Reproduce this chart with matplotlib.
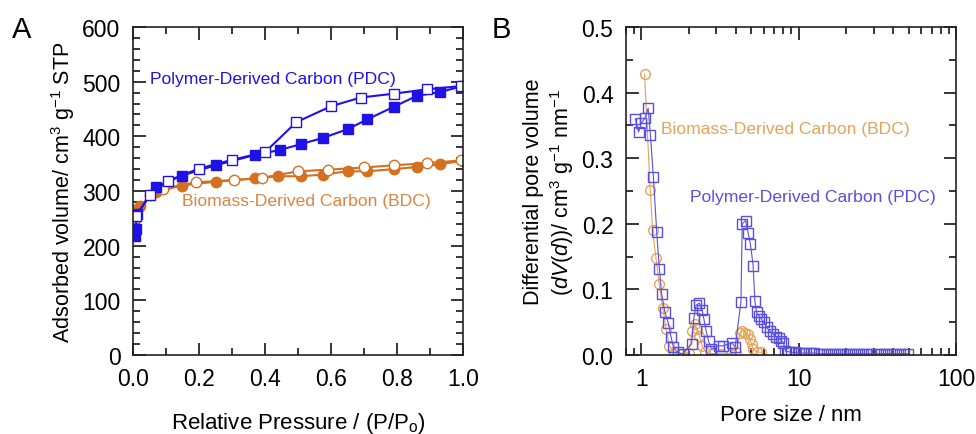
import matplotlib
matplotlib.use("Agg")
import matplotlib.pyplot as plt
from matplotlib.ticker import MultipleLocator, LogLocator, NullFormatter, FixedLocator

plt.rcParams['font.family'] = ['Liberation Sans', 'DejaVu Sans']
plt.rcParams['mathtext.fontset'] = 'custom'
plt.rcParams['mathtext.rm'] = 'Liberation Sans'
plt.rcParams['mathtext.it'] = 'Liberation Sans:italic'

# ---------------- Panel A: isotherms ----------------
pdc_ads_p = [0.005, 0.008, 0.012, 0.07, 0.147, 0.25, 0.37, 0.445, 0.51, 0.575, 0.65, 0.71, 0.79, 0.86, 0.93, 1.0]
pdc_ads_v = [218, 231, 258, 307, 328, 347, 366, 375, 386, 397, 413, 431, 454, 474, 481, 492]
pdc_des_p = [0.995, 0.89, 0.79, 0.69, 0.60, 0.495, 0.40, 0.30, 0.20, 0.107, 0.05, 0.01]
pdc_des_v = [492, 486, 478, 471, 455, 426, 371, 357, 341, 319, 292, 255]

bdc_ads_p = [0.005, 0.02, 0.07, 0.147, 0.25, 0.37, 0.44, 0.51, 0.575, 0.65, 0.71, 0.79, 0.86, 0.93, 1.0]
bdc_ads_v = [265, 273, 298, 310, 317, 323, 327, 327, 330, 336, 336, 340, 344, 349, 355]
bdc_des_p = [0.995, 0.89, 0.79, 0.70, 0.59, 0.50, 0.39, 0.305, 0.19, 0.09, 0.05, 0.008]
bdc_des_v = [356, 351, 347, 343, 339, 336, 324, 320, 316, 304, 292, 250]

# ---------------- Panel B: pore size distributions ----------------
pdc_d = [0.917, 0.962, 1.0, 1.054, 1.106, 1.144, 1.195, 1.254, 1.304, 1.348, 1.414, 1.484, 1.544,
         1.60, 1.70, 1.83, 2.09, 2.16, 2.23, 2.34, 2.44, 2.50, 2.58, 2.68, 2.79, 3.10, 3.33, 3.76,
         3.95, 4.30, 4.38, 4.61, 4.78, 4.94, 5.14, 5.27, 5.40, 5.58, 5.80, 6.03, 6.26, 6.54, 6.87,
         7.21, 7.50, 7.75, 8.0, 8.25, 8.6, 9.0, 9.5, 10.0, 10.6, 11.2, 11.9, 12.6, 13.4, 14.2,
         15.1, 16.0, 17.0, 18.0, 19.1, 20.3, 21.5, 22.8, 24.2, 25.7, 27.3, 29.0, 30.8, 32.7,
         34.7, 36.8, 39.1, 41.5, 44.0, 46.7, 49.5]
pdc_dv = [0.360, 0.340, 0.353, 0.361, 0.376, 0.335, 0.271, 0.187, 0.131, 0.093, 0.065, 0.049, 0.028,
          0.012, 0.004, 0.002, 0.017, 0.057, 0.076, 0.079, 0.068, 0.055, 0.037, 0.021, 0.009, 0.014,
          0.014, 0.019, 0.012, 0.081, 0.200, 0.205, 0.186, 0.169, 0.136, 0.083, 0.065, 0.060, 0.055,
          0.050, 0.042, 0.037, 0.032, 0.028, 0.026, 0.022, 0.019, 0.006, 0.005, 0.004, 0.004, 0.003,
          0.003, 0.003, 0.003, 0.003, 0.002, 0.002, 0.002, 0.002, 0.002, 0.002, 0.002, 0.002,
          0.002, 0.002, 0.002, 0.002, 0.002, 0.002, 0.002, 0.002, 0.002, 0.002, 0.002, 0.002,
          0.002, 0.002, 0.002]

bdc_d = [1.05, 1.14, 1.18, 1.24, 1.30, 1.37, 1.44, 1.51, 1.62, 1.80, 2.00, 2.11, 2.19, 2.27, 2.34,
         2.44, 2.56, 2.80, 3.2, 3.7, 4.0, 4.24, 4.38, 4.56, 4.74, 4.90, 5.02, 5.14, 5.40, 5.74]
bdc_dv = [0.428, 0.252, 0.191, 0.148, 0.108, 0.072, 0.039, 0.014, 0.004, 0.002, 0.003, 0.037, 0.047,
          0.039, 0.029, 0.014, 0.005, 0.002, 0.002, 0.002, 0.004, 0.033, 0.037, 0.034, 0.032, 0.024,
          0.017, 0.009, 0.005, 0.004]

BLUE = '#1f12e6'
ORANGE = '#d4701f'
BLUE_B = '#5a4ee0'
ORANGE_B = '#e3a35a'

fig = plt.figure(figsize=(9.76, 4.35), dpi=100)
axA = fig.add_axes([133/976, 79/435, 330/976, 328/435])
axB = fig.add_axes([626/976, 79/435, 330/976, 328/435])

# Panel A
axA.plot(bdc_ads_p, bdc_ads_v, '-o', color=ORANGE, mfc=ORANGE, mec=ORANGE, ms=7.5, lw=1.5)
axA.plot(bdc_des_p, bdc_des_v, '-o', color=ORANGE, mfc='white', mec=ORANGE, ms=7.5, lw=1.5, mew=1.0)
axA.plot(pdc_ads_p, pdc_ads_v, '-s', color=BLUE, mfc=BLUE, mec=BLUE, ms=7, lw=1.5)
axA.plot(pdc_des_p, pdc_des_v, '-s', color=BLUE, mfc='white', mec=BLUE, ms=7, lw=1.5, mew=1.0)
axA.set_xlim(0, 1.0)
axA.set_ylim(0, 600)
axA.xaxis.set_major_locator(MultipleLocator(0.2))
axA.xaxis.set_minor_locator(MultipleLocator(0.1))
axA.yaxis.set_major_locator(MultipleLocator(100))
axA.yaxis.set_minor_locator(MultipleLocator(20))
axA.xaxis.set_major_formatter(matplotlib.ticker.FormatStrFormatter('%.1f'))
axA.set_xlabel('Relative Pressure / (P/P$_\\mathrm{o}$)', fontsize=16, labelpad=14)
axA.set_ylabel('Adsorbed volume/ cm$^3$ g$^{-1}$ STP', fontsize=15.5, labelpad=4)
axA.text(0.05, 505, 'Polymer-Derived Carbon (PDC)', color=BLUE, fontsize=12.6, va='center', ha='left')
axA.text(0.15, 282, 'Biomass-Derived Carbon (BDC)', color=ORANGE, fontsize=12.6, va='center', ha='left', alpha=0.85)

# Panel B
axB.plot(bdc_d, bdc_dv, '-o', color=ORANGE_B, mfc='none', mec=ORANGE_B, ms=7, lw=0.8, mew=1.0)
axB.plot(pdc_d, pdc_dv, '-s', color=BLUE_B, mfc='none', mec=BLUE_B, ms=6.5, lw=0.8, mew=1.0)
axB.set_xscale('log')
axB.set_xlim(0.8, 100)
axB.set_ylim(0, 0.5)
axB.yaxis.set_major_locator(MultipleLocator(0.1))
axB.yaxis.set_minor_locator(MultipleLocator(0.05))
axB.xaxis.set_major_locator(FixedLocator([1, 10, 100]))
axB.xaxis.set_major_formatter(matplotlib.ticker.FixedFormatter(['1', '10', '100']))
axB.xaxis.set_minor_locator(LogLocator(base=10, subs=range(2, 10)))
axB.xaxis.set_minor_formatter(NullFormatter())
axB.yaxis.set_major_formatter(matplotlib.ticker.FormatStrFormatter('%.1f'))
axB.set_xlabel('Pore size / nm', fontsize=16, labelpad=10)
axB.set_ylabel('Differential pore volume\n($\\mathit{dV}$($\\mathit{d}$))/ cm$^3$ g$^{-1}$ nm$^{-1}$',
               fontsize=15.5, labelpad=4, linespacing=1.2)
axB.text(1.34, 0.345, 'Biomass-Derived Carbon (BDC)', color=ORANGE_B, fontsize=12.6, va='center', ha='left')
axB.text(2.03, 0.242, 'Polymer-Derived Carbon (PDC)', color=BLUE_B, fontsize=12.6, va='center', ha='left')

for ax in (axA, axB):
    ax.tick_params(which='both', direction='in', top=True, right=True, labelsize=16.5, width=1.1)
    ax.tick_params(which='major', length=9, pad=9)
    ax.tick_params(which='minor', length=5)
    for s in ax.spines.values():
        s.set_linewidth(1.2)
        s.set_color('#222222')

fig.text(12/976, 1 - 30/435, 'A', fontsize=21, va='center', ha='left')
fig.text(492/976, 1 - 30/435, 'B', fontsize=21, va='center', ha='left')

fig.savefig('out.png', dpi=100)
